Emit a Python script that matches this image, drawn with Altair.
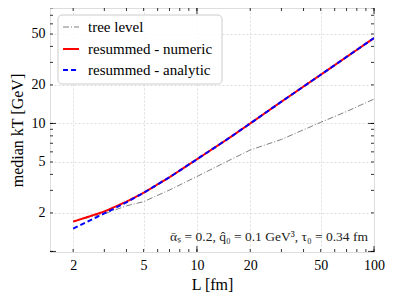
import altair as alt
import pandas as pd

# ---- data ----
L_tree = [2, 3, 4, 5, 7, 10, 15, 20, 30, 50, 70, 100]
kt_tree = [1.72, 1.97, 2.27, 2.45, 3.02, 3.85, 5.1, 6.2, 7.5, 10.2, 12.4, 15.5]

L_num = [2, 3, 4, 5, 7, 10, 15, 20, 30, 50, 70, 100]
kt_num = [1.71, 2.05, 2.45, 2.87, 3.8, 5.25, 7.6, 10.0, 14.8, 24.0, 33.1, 46.5]

L_ana = [2, 3, 4, 5, 7, 10, 15, 20, 30, 50, 70, 100]
kt_ana = [1.51, 1.98, 2.42, 2.87, 3.8, 5.25, 7.6, 10.0, 14.8, 24.0, 33.1, 46.5]

series_names = ["tree level", "resummed - numeric", "resummed - analytic"]
series_colors = ["#7f7f7f", "#ff0000", "#0000ff"]
series_dashes = [[6, 2, 1, 2], [1, 0], [5, 3]]
series_widths = [1, 2, 2]

x_labels = [2, 5, 10, 20, 50, 100]
y_labels = [2, 5, 10, 20, 50]
x_minor = [2, 3, 4, 5, 6, 7, 8, 9, 10, 20, 30, 40, 50, 60, 70, 80, 90, 100]
x_major = [10, 100]
y_minor = [1, 2, 3, 4, 5, 6, 7, 8, 9, 10, 20, 30, 40, 50, 60, 70, 80]
y_major = [1, 10]

annotation = "ᾱₛ = 0.2, q̂₀ = 0.1 GeV³, τ₀ = 0.34 fm"

W, H = 324, 244
FONT = "Liberation Serif, Times New Roman, serif"

xscale = alt.Scale(type="log", domain=[1.48, 100], nice=False)
yscale = alt.Scale(type="log", domain=[0.99, 79.8], nice=False)

xaxis = alt.Axis(values=x_labels, title="L [fm]", ticks=False, domain=False,
                 grid=True, gridDash=[2, 2], gridColor="#dddddd",
                 labelFont=FONT, labelFontSize=14, labelColor="black",
                 labelPadding=6, titleFont=FONT, titleFontSize=16,
                 titleFontWeight="normal", titleColor="black",
                 titlePadding=4, labelFlush=False)
yaxis = alt.Axis(values=y_labels, title="median kT [GeV]", ticks=False, domain=False,
                 grid=True, gridDash=[2, 2], gridColor="#dddddd",
                 labelFont=FONT, labelFontSize=14, labelColor="black",
                 labelPadding=5, titleFont=FONT, titleFontSize=16,
                 titleFontWeight="normal", titleColor="black",
                 titlePadding=6, labelFlush=False)

layers = []

base_df = pd.DataFrame({"L": L_tree, "kt": kt_tree})
layers.append(alt.Chart(base_df).mark_point(opacity=0).encode(
    x=alt.X("L:Q", scale=xscale, axis=xaxis),
    y=alt.Y("kt:Q", scale=yscale, axis=yaxis)))

for name, Ls, ks, col, dash, wd in zip(series_names, [L_tree, L_num, L_ana],
                                        [kt_tree, kt_num, kt_ana],
                                        series_colors, series_dashes, series_widths):
    d = pd.DataFrame({"L": Ls, "kt": ks})
    layers.append(alt.Chart(d).mark_line(color=col, strokeDash=dash, strokeWidth=wd, clip=True).encode(
        x=alt.X("L:Q", scale=xscale),
        y=alt.Y("kt:Q", scale=yscale)))

def ticks_x(vals, length):
    d = pd.DataFrame({"v": vals})
    b = alt.Chart(d).mark_rule(color="black", strokeWidth=0.8).encode(
        x=alt.X("v:Q", scale=xscale), y=alt.value(H), y2=alt.value(H - length))
    t = alt.Chart(d).mark_rule(color="black", strokeWidth=0.8).encode(
        x=alt.X("v:Q", scale=xscale), y=alt.value(0), y2=alt.value(length))
    return [b, t]

def ticks_y(vals, length):
    d = pd.DataFrame({"v": vals})
    l = alt.Chart(d).mark_rule(color="black", strokeWidth=0.8).encode(
        y=alt.Y("v:Q", scale=yscale), x=alt.value(0), x2=alt.value(length))
    r = alt.Chart(d).mark_rule(color="black", strokeWidth=0.8).encode(
        y=alt.Y("v:Q", scale=yscale), x=alt.value(W), x2=alt.value(W - length))
    return [l, r]

layers += ticks_x(x_minor, 3) + ticks_x(x_major, 6) + ticks_y(y_minor, 3) + ticks_y(y_major, 6)

# legend (manual)
one = pd.DataFrame({"a": [0]})
layers.append(alt.Chart(one).mark_rect(fill="white", fillOpacity=0.85, stroke="#cccccc",
                                        strokeWidth=1, cornerRadius=4).encode(
    x=alt.value(8), x2=alt.value(172), y=alt.value(7), y2=alt.value(76)))
row_y = [19, 41, 62]
for name, col, dash, wd, ry in zip(series_names, series_colors, series_dashes, series_widths, row_y):
    layers.append(alt.Chart(one).mark_rule(color=col, strokeDash=dash, strokeWidth=wd).encode(
        x=alt.value(13), x2=alt.value(29), y=alt.value(ry)))
    layers.append(alt.Chart(pd.DataFrame({"t": [name]})).mark_text(
        align="left", baseline="middle", font=FONT, fontSize=15, color="black").encode(
        text="t:N", x=alt.value(38), y=alt.value(ry)))

layers.append(alt.Chart(pd.DataFrame({"t": [annotation]})).mark_text(
    align="right", baseline="middle", font=FONT, fontSize=13.5, color="#222222"
).encode(text="t:N", x=alt.value(W - 6), y=alt.value(H - 15)))

chart = alt.layer(*layers).properties(
    width=W, height=H,
    autosize=alt.AutoSizeParams(type="none"),
    padding={"left": 42, "top": 0, "right": 13, "bottom": 43},
).configure_view(stroke="black", strokeWidth=1.2).configure(background="white")

chart.save("out.html", embed_options={"renderer": "svg", "actions": False})
